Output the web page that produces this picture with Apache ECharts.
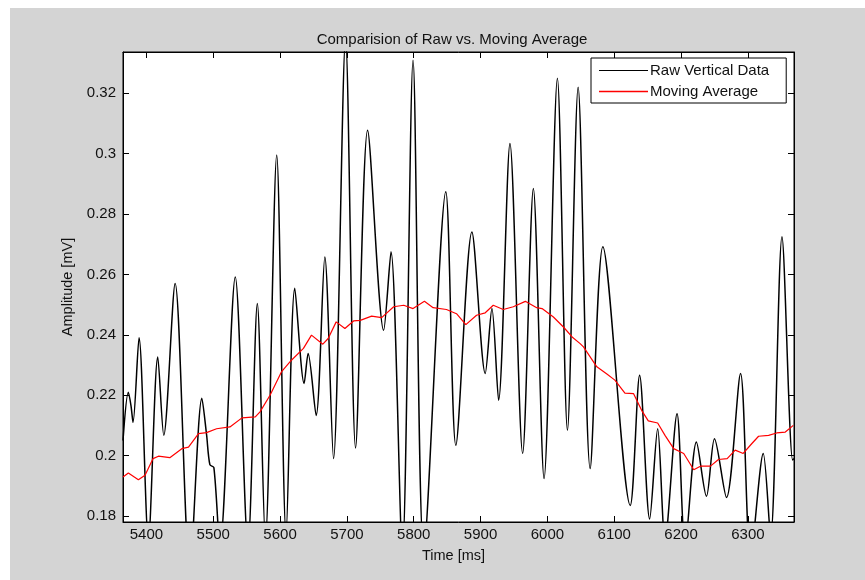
<!DOCTYPE html>
<html>
<head>
<meta charset="utf-8">
<script src="https://cdn.jsdelivr.net/npm/echarts@6/dist/echarts.min.js"></script>
<style>
  html, body { margin: 0; padding: 0; background: #ffffff; }
  #bg { position: absolute; left: 10px; top: 8px; width: 855px; height: 572px; background: #d4d4d4; }
  #chart { position: absolute; left: 0; top: 0; width: 865px; height: 580px; }
</style>
</head>
<body>
<div id="bg"></div>
<div id="chart"></div>
<script>
// Raw vertical signal: sample times [ms] and amplitudes [mV]
const rawTime = [
  5365, 5373, 5377, 5380, 5389, 5403, 5417, 5426, 5443, 5465,
  5483, 5490, 5495, 5501, 5510, 5533, 5552, 5566, 5578, 5595,
  5609, 5622, 5636, 5642, 5654, 5667, 5680, 5698, 5713, 5731,
  5755, 5766, 5783, 5799, 5815, 5848, 5863, 5887, 5907, 5917,
  5927, 5944, 5963, 5979, 5995, 6015, 6030, 6046, 6064, 6083,
  6124, 6138, 6153, 6165, 6176, 6194, 6206, 6223, 6238, 6250,
  6268, 6289, 6304, 6323, 6334, 6351, 6367, 6369
];
const rawValue = [
  0.205, 0.221, 0.2165, 0.211, 0.239, 0.172, 0.2327, 0.2067, 0.257, 0.162,
  0.219, 0.207, 0.197, 0.196, 0.170, 0.2592, 0.170, 0.2504, 0.172, 0.2996,
  0.174, 0.2554, 0.2239, 0.2338, 0.2133, 0.2658, 0.199, 0.338, 0.2025, 0.3078,
  0.2415, 0.2675, 0.168, 0.331, 0.168, 0.2874, 0.2034, 0.2741, 0.2272, 0.2487,
  0.2183, 0.3034, 0.2007, 0.2885, 0.1924, 0.325, 0.2084, 0.322, 0.1957, 0.2692,
  0.1835, 0.2266, 0.1790, 0.2089, 0.172, 0.2139, 0.170, 0.2045, 0.1865, 0.2056,
  0.1861, 0.2272, 0.166, 0.2007, 0.173, 0.2725, 0.1985, 0.199
];

// Moving average of the same signal
const avgTime = [
  5365, 5373, 5388, 5398, 5410, 5418, 5435, 5453, 5463, 5478,
  5490, 5505, 5525, 5543, 5563, 5570, 5585, 5602, 5617, 5635,
  5647, 5664, 5672, 5684, 5697, 5710, 5720, 5737, 5752, 5770,
  5785, 5799, 5816, 5829, 5849, 5864, 5878, 5894, 5907, 5919,
  5934, 5949, 5967, 5984, 5992, 6009, 6024, 6037, 6049, 6054,
  6074, 6089, 6101, 6116, 6129, 6141, 6151, 6165, 6176, 6189,
  6204, 6219, 6229, 6244, 6256, 6269, 6281, 6293, 6306, 6316,
  6331, 6343, 6356, 6368
];
const avgValue = [
  0.1929, 0.1942, 0.1920, 0.1935, 0.1990, 0.1998, 0.1993, 0.2023, 0.2028, 0.2073,
  0.2076, 0.2089, 0.2095, 0.2125, 0.2128, 0.2145, 0.2200, 0.2277, 0.2316, 0.2355,
  0.2399, 0.2369, 0.2388, 0.2443, 0.2421, 0.2446, 0.2448, 0.2462, 0.2457, 0.2493,
  0.2498, 0.2487, 0.2511, 0.2490, 0.2484, 0.2470, 0.2434, 0.2465, 0.2473, 0.2498,
  0.2484, 0.2493, 0.2511, 0.2490, 0.2487, 0.2459, 0.2426, 0.2393, 0.2371, 0.2360,
  0.2294, 0.2270, 0.2250, 0.2207, 0.2205, 0.2150, 0.2115, 0.2108, 0.2067, 0.2023,
  0.2007, 0.1953, 0.1965, 0.1965, 0.1987, 0.1990, 0.2018, 0.2007, 0.2040, 0.2064,
  0.2067, 0.2075, 0.2078, 0.2100
];

// Tick positions
const xTicks = [5400, 5500, 5600, 5700, 5800, 5900, 6000, 6100, 6200, 6300];
const yTicks = [0.18, 0.2, 0.22, 0.24, 0.26, 0.28, 0.3, 0.32];

const xRange = [5365, 6369];
const yRange = [0.178, 0.3337];

const FONT = 'Liberation Sans, Arial, Helvetica, sans-serif';
const RAW_COLOR = '#000000';
const AVG_COLOR = '#ff0000';

const rawData = rawTime.map((t, i) => [t, rawValue[i]]);
const avgData = avgTime.map((t, i) => [t, avgValue[i]]);

function xAxisDef(pos, showLabels) {
  return {
    type: 'value', position: pos, min: xRange[0], max: xRange[1],
    axisLine: { show: true, onZero: false, lineStyle: { color: '#000', width: 1 } },
    axisTick: { show: true, inside: true, length: 6, customValues: xTicks, lineStyle: { color: '#000' } },
    axisLabel: { show: showLabels, customValues: xTicks, margin: 5, color: '#111', fontSize: 15, fontFamily: FONT,
      formatter: v => String(Math.round(v)) },
    splitLine: { show: false }
  };
}
function yAxisDef(pos, showLabels) {
  return {
    type: 'value', position: pos, min: yRange[0], max: yRange[1],
    axisLine: { show: true, onZero: false, lineStyle: { color: '#000', width: 1 } },
    axisTick: { show: true, inside: true, length: 6, customValues: yTicks, lineStyle: { color: '#000' } },
    axisLabel: { show: showLabels, customValues: yTicks, margin: 7, color: '#111', fontSize: 15, fontFamily: FONT,
      formatter: v => String(+v.toFixed(2)) },
    splitLine: { show: false }
  };
}

const chart = echarts.init(document.getElementById('chart'), null, { renderer: 'canvas' });

const xBottom = xAxisDef('bottom', true);
xBottom.name = 'Time [ms]';
xBottom.nameLocation = 'middle';
xBottom.nameGap = 26;
xBottom.nameTextStyle = { color: '#111', fontSize: 14.5, fontFamily: FONT, padding: [0, 10, 0, 0] };

const yLeft = yAxisDef('left', true);
yLeft.name = 'Amplitude [mV]';
yLeft.nameLocation = 'middle';
yLeft.nameGap = 46;
yLeft.nameTextStyle = { color: '#111', fontSize: 14.5, fontFamily: FONT };

// legend key strokes (the legend box itself supplies border and text)
const legendLeft = 591, legendTop = 58;
const keyX1 = legendLeft + 8, keyX2 = legendLeft + 57;
const keyRowY = [legendTop + 12.5, legendTop + 33.5];

chart.setOption({
  animation: false,
  backgroundColor: 'transparent',
  title: {
    text: 'Comparision of Raw vs. Moving Average',
    left: 447, top: 27, textAlign: 'center',
    textStyle: { color: '#111', fontSize: 15, fontWeight: 'normal', fontFamily: FONT }
  },
  grid: {
    left: 123, top: 52, width: 671, height: 470,
    show: true, backgroundColor: '#ffffff', borderColor: '#000', borderWidth: 1
  },
  legend: {
    orient: 'vertical', left: legendLeft, top: legendTop,
    padding: [5, 17, 4, 8], itemGap: 6,
    itemWidth: 49, itemHeight: 15,
    backgroundColor: '#ffffff', borderColor: '#000', borderWidth: 1, borderRadius: 0,
    itemStyle: { opacity: 0 },
    lineStyle: { opacity: 0 },
    textStyle: { color: '#111', fontSize: 15, fontFamily: FONT, padding: [0, 0, 0, -4] },
    data: ['Raw Vertical Data', 'Moving Average']
  },
  graphic: [
    { type: 'line', zlevel: 1, z: 100, silent: true,
      shape: { x1: keyX1, y1: keyRowY[0], x2: keyX2, y2: keyRowY[0] },
      style: { stroke: RAW_COLOR, lineWidth: 1.2 } },
    { type: 'line', zlevel: 1, z: 100, silent: true,
      shape: { x1: keyX1, y1: keyRowY[1], x2: keyX2, y2: keyRowY[1] },
      style: { stroke: AVG_COLOR, lineWidth: 1.5 } }
  ],
  xAxis: [xBottom, xAxisDef('top', false)],
  yAxis: [yLeft, yAxisDef('right', false)],
  series: [
    {
      name: 'Raw Vertical Data', type: 'line', data: rawData,
      xAxisIndex: 0, yAxisIndex: 0,
      symbol: 'none', smooth: 0.3, clip: true,
      lineStyle: { color: RAW_COLOR, width: 1.5 }, itemStyle: { color: RAW_COLOR }
    },
    {
      name: 'Moving Average', type: 'line', data: avgData,
      xAxisIndex: 0, yAxisIndex: 0,
      symbol: 'none', smooth: false, clip: true,
      lineStyle: { color: AVG_COLOR, width: 1.2 }, itemStyle: { color: AVG_COLOR }
    }
  ]
});
</script>
</body>
</html>
